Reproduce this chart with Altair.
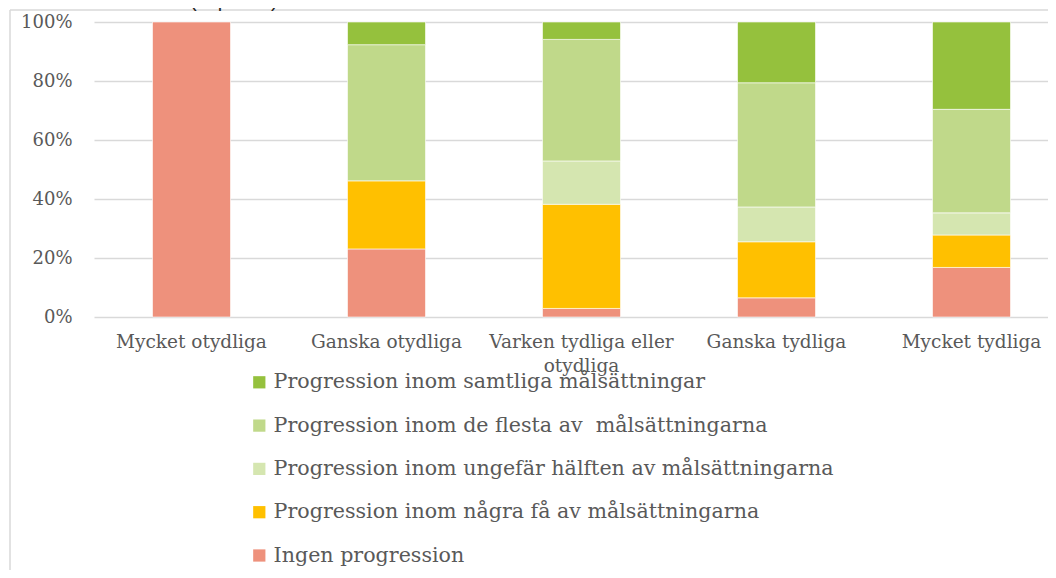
import altair as alt
import pandas as pd

categories = ["Mycket otydliga", "Ganska otydliga", "Varken tydliga eller otydliga",
              "Ganska tydliga", "Mycket tydliga"]

s_samtliga = "Progression inom samtliga målsättningar"
s_flesta = "Progression inom de flesta av\u00a0 målsättningarna"
s_halften = "Progression inom ungefär hälften av målsättningarna"
s_nagra = "Progression inom några få av målsättningarna"
s_ingen = "Ingen progression"

v_ingen = [100, 23.1, 2.9, 6.5, 16.8]
v_nagra = [0, 23.1, 35.3, 19.0, 11.0]
v_halften = [0, 0, 14.7, 11.8, 7.5]
v_flesta = [0, 46.2, 41.2, 42.1, 35.1]
v_samtliga = [0, 7.7, 5.9, 20.6, 29.6]

legend_order = [s_samtliga, s_flesta, s_halften, s_nagra, s_ingen]
colors = ["#95C13D", "#C0D98A", "#D5E6B0", "#FFC000", "#EE917C"]

stack_series = [(s_ingen, v_ingen), (s_nagra, v_nagra), (s_halften, v_halften),
                (s_flesta, v_flesta), (s_samtliga, v_samtliga)]

rows = []
for k, (name, vals) in enumerate(stack_series):
    for c, v in zip(categories, vals):
        if v > 0:
            rows.append({"Kategori": c, "Serie": name, "Andel": v, "Ordning": k})
df = pd.DataFrame(rows)

FONT = "DejaVu Serif"
GRAY = "#595959"
GRID = "#D9D9D9"

label_expr = "datum.label == 'Varken tydliga eller otydliga' ? ['Varken tydliga eller', 'otydliga'] : datum.label"

bars = alt.Chart(df).mark_bar(stroke="white", strokeWidth=0.6).encode(
    x=alt.X("Kategori:N", sort=categories, title=None,
            scale=alt.Scale(range=[0, 975], paddingInner=0.6, paddingOuter=0.3),
            axis=alt.Axis(labelAngle=0, labelFont=FONT, labelFontSize=18.5, labelColor=GRAY,
                          labelPadding=15, labelLimit=0, domain=False, ticks=False,
                          labelExpr=label_expr, labelLineHeight=24)),
    y=alt.Y("Andel:Q", stack="normalize", title=None,
            scale=alt.Scale(domain=[0, 1], nice=False),
            axis=alt.Axis(format=".0%", values=[0, 0.2, 0.4, 0.6, 0.8, 1.0],
                          labelFont=FONT, labelFontSize=18, labelColor=GRAY,
                          labelPadding=22, domain=False, ticks=False,
                          gridColor=GRID, gridWidth=1.5)),
    color=alt.Color("Serie:N", scale=alt.Scale(domain=legend_order, range=colors),
                    legend=alt.Legend(title=None, orient="none", legendX=155, legendY=350,
                                      labelFont=FONT, labelFontSize=20.6, labelColor=GRAY,
                                      symbolType="square", symbolSize=150, symbolStrokeWidth=0,
                                      rowPadding=22.3, labelOffset=4, labelLimit=0, padding=0)),
    order=alt.Order("Ordning:Q", sort="ascending"),
)

dummy = pd.DataFrame({"a": [0]})
frame_v = alt.Chart(dummy).mark_rule(color=GRID, strokeWidth=1.5).encode(
    x=alt.value(-84), y=alt.value(-12), y2=alt.value(560))
frame_h = alt.Chart(dummy).mark_rule(color=GRID, strokeWidth=1.5).encode(
    x=alt.value(-84), x2=alt.value(960), y=alt.value(-12))
cut_title = alt.Chart(dummy).mark_text(align="left", baseline="alphabetic",
                                       font="Liberation Sans", fontSize=20, color="#262626").encode(
    x=alt.value(-83), y=alt.value(-15), text=alt.value("överenskommelsen (kapitel 2)."))

chart = alt.layer(frame_v, frame_h, cut_title, bars).properties(
    width=954, height=295,
    autosize=alt.AutoSizeParams(type="none"),
    padding={"left": 86, "top": 14, "right": 0, "bottom": 253},
).configure_view(stroke=None)

chart.save("out.html", embed_options={"renderer": "svg", "actions": False})
